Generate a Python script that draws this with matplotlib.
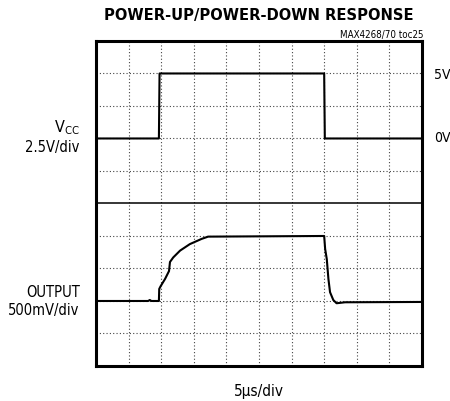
import matplotlib
matplotlib.use('Agg')
import matplotlib.pyplot as plt

plt.rcParams['font.family'] = ['DejaVu Sans']
plt.rcParams['font.stretch'] = 'condensed'

# traces in graticule divisions (x: 0..10, y: 0..10 from bottom)
vcc_x = [0, 1.93, 1.95, 7.0, 7.02, 10]
vcc_y = [7.0, 7.0, 9.0, 9.0, 7.0, 7.0]

out_x = [0, 1.6, 1.65, 1.7, 1.93, 1.94, 1.98, 2.12, 2.24, 2.27, 2.37, 2.58, 2.88,
         3.24, 3.44, 7.0, 7.03, 7.08, 7.13, 7.18, 7.28, 7.38, 7.64, 10]
out_y = [2.0, 2.0, 2.03, 2.0, 2.0, 2.37, 2.45, 2.68, 2.92, 3.2, 3.34, 3.55, 3.75,
         3.91, 3.98, 4.0, 3.6, 3.29, 2.68, 2.27, 2.03, 1.93, 1.96, 1.97]

fig = plt.figure(figsize=(4.5, 4.02), dpi=100)
ax = fig.add_axes([0.2133, 0.0871, 0.7244, 0.8085])
ax.set_xlim(0, 10)
ax.set_ylim(0, 10)

# graticule
for i in range(1, 10):
    ax.axvline(i, color='#444444', lw=0.8, ls=(0, (1, 2)))
    if i != 5:
        ax.axhline(i, color='#444444', lw=0.8, ls=(0, (1, 2)))
ax.axhline(5, color='black', lw=1.1)

ax.plot(vcc_x, vcc_y, color='black', lw=1.5)
ax.plot(out_x, out_y, color='black', lw=1.5)

ax.set_xticks([])
ax.set_yticks([])
for s in ax.spines.values():
    s.set_linewidth(2.2)

fig.text(0.575, 0.961, 'POWER-UP/POWER-DOWN RESPONSE', ha='center', va='center',
         fontsize=11.8, fontweight='bold')
fig.text(0.94, 0.913, 'MAX4268/70 toc25', ha='right', va='center', fontsize=7)

fig.text(0.177, 0.682, r'$\mathregular{V_{CC}}$', ha='right', va='center', fontsize=11.5)
fig.text(0.177, 0.632, '2.5V/div', ha='right', va='center', fontsize=10.5)
fig.text(0.177, 0.273, 'OUTPUT', ha='right', va='center', fontsize=10.5)
fig.text(0.177, 0.228, '500mV/div', ha='right', va='center', fontsize=10.5)
fig.text(0.964, 0.813, '5V', ha='left', va='center', fontsize=10)
fig.text(0.964, 0.657, '0V', ha='left', va='center', fontsize=10)
fig.text(0.575, 0.025, '5μs/div', ha='center', va='center', fontsize=11)

fig.savefig('out.png', dpi=100)
